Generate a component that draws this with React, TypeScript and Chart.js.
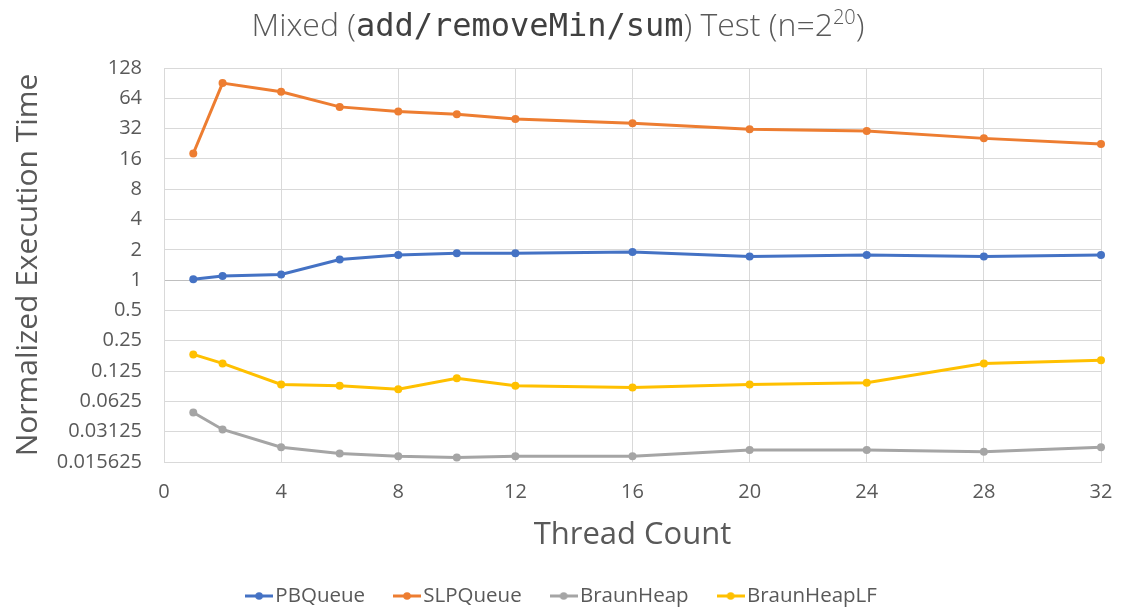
import React, { useEffect, useRef } from "react";
import { Chart, registerables } from "chart.js";

Chart.register(...registerables);

const threads = [1, 2, 4, 6, 8, 10, 12, 16, 20, 24, 28, 32];
const pbQueue = [1.02, 1.1, 1.14, 1.6, 1.78, 1.85, 1.85, 1.9, 1.72, 1.78, 1.72, 1.78];
const slpQueue = [18.1, 90.6, 74.3, 52.6, 47.3, 44.4, 39.9, 36.1, 31.5, 30.3, 25.6, 22.5];
const braunHeap = [0.0484, 0.0329, 0.0219, 0.019, 0.0178, 0.0173, 0.0178, 0.0178, 0.0206, 0.0206, 0.0198, 0.0219];
const braunHeapLF = [0.183, 0.149, 0.092, 0.0894, 0.0827, 0.106, 0.0894, 0.086, 0.092, 0.0959, 0.149, 0.16];
const seriesNames = ["PBQueue", "SLPQueue", "BraunHeap", "BraunHeapLF"];
const seriesColors = ["#4472C4", "#ED7D31", "#A5A5A5", "#FFC000"];
const yTicks = [0.015625, 0.03125, 0.0625, 0.125, 0.25, 0.5, 1, 2, 4, 8, 16, 32, 64, 128];
const xTicks = [0, 4, 8, 12, 16, 20, 24, 28, 32];

const TEXT = "#595959";
const GRID = "#d9d9d9";
const FONT = "'Open Sans', 'Noto Sans', sans-serif";

export default function App() {
  const ref = useRef<HTMLCanvasElement>(null);

  useEffect(() => {
    document.body.style.margin = "0";
    const canvas = ref.current;
    if (!canvas) return;

    const makeIcon = (color: string) => {
      const c = document.createElement("canvas");
      c.width = 28;
      c.height = 10;
      const g = c.getContext("2d")!;
      g.strokeStyle = color;
      g.lineWidth = 3;
      g.beginPath();
      g.moveTo(0, 5);
      g.lineTo(28, 5);
      g.stroke();
      g.fillStyle = color;
      g.beginPath();
      g.arc(14, 5, 3.8, 0, Math.PI * 2);
      g.fill();
      return c;
    };
    const icons = seriesColors.map(makeIcon);

    const seriesValues = [pbQueue, slpQueue, braunHeap, braunHeapLF];
    const datasets = seriesValues.map((vals, i) => ({
      label: seriesNames[i],
      data: threads.map((t, j) => ({ x: t, y: vals[j] })),
      borderColor: seriesColors[i],
      backgroundColor: seriesColors[i],
      pointBackgroundColor: seriesColors[i],
      pointBorderColor: seriesColors[i],
      pointBorderWidth: 0,
      pointRadius: 4,
      borderWidth: 3,
      tension: 0,
      clip: false as any,
    }));

    const chart = new Chart(canvas, {
      type: "line",
      data: { datasets },
      options: {
        animation: false,
        responsive: false,
        devicePixelRatio: 1,
        layout: { padding: { left: 29, right: 23, top: 68, bottom: 0 } },
        plugins: {
          title: { display: false },
          tooltip: { enabled: false },
          legend: {
            position: "bottom",
            maxHeight: 62.25,
            labels: {
              usePointStyle: true,
              pointStyleWidth: 12,
              boxHeight: 10,
              padding: 36,
              color: TEXT,
              font: { family: FONT, size: 20.5 },
              generateLabels: (ch: any) =>
                (Chart.defaults.plugins.legend.labels.generateLabels as any)(ch).map(
                  (it: any, i: number) => ({ ...it, pointStyle: icons[i] })
                ),
            },
          },
        },
        scales: {
          x: {
            type: "linear",
            min: 0,
            max: 32,
            afterBuildTicks: (s: any) => {
              s.ticks = xTicks.map((v) => ({ value: v }));
            },
            afterFit: (s: any) => {
              s.height = 87.75;
            },
            grid: {
              color: GRID,
              lineWidth: 1,
              drawTicks: true,
              tickLength: 8,
              tickColor: "rgba(0,0,0,0)",
            },
            border: { color: GRID, width: 1 },
            ticks: {
              padding: 10,
              color: TEXT,
              font: { family: FONT, size: 20 },
              maxRotation: 0,
              autoSkip: false,
            },
            title: {
              display: true,
              text: "Thread Count",
              color: TEXT,
              font: { family: FONT, size: 31 },
              padding: { top: 0, bottom: -4.35 },
            },
          },
          y: {
            type: "logarithmic",
            min: 0.015625,
            max: 128,
            afterBuildTicks: (s: any) => {
              s.ticks = yTicks.map((v) => ({ value: v }));
            },
            afterFit: (s: any) => {
              s.width = 135;
            },
            grid: {
              color: (c: any) => (c.tick && c.tick.value === 1 ? "#bfbfbf" : GRID),
              lineWidth: 1,
              drawTicks: false,
            },
            border: { color: GRID, width: 1 },
            ticks: {
              padding: 22,
              color: TEXT,
              font: { family: FONT, size: 20 },
              autoSkip: false,
              callback: (v: any) => String(v),
            },
            title: {
              display: true,
              text: "Normalized Execution Time",
              color: TEXT,
              font: { family: FONT, size: 30 },
              padding: { top: -19, bottom: 0 },
            },
          },
        },
      } as any,
    });
    return () => chart.destroy();
  }, []);

  return (
    <div style={{ position: "absolute", left: 0, top: 0, width: 1124, height: 612, background: "#fff" }}>
      <div
        style={{
          position: "absolute",
          top: 3,
          left: -4,
          width: 1124,
          textAlign: "center",
          fontFamily: FONT,
          fontWeight: 300,
          fontSize: 32,
          lineHeight: "42px",
          color: TEXT,
          whiteSpace: "nowrap",
        }}
      >
        Mixed (
        <span style={{ fontFamily: "'DejaVu Sans Mono', monospace", color: "#404040" }}>add/removeMin/sum</span>
        ) Test (n=2
        <sup style={{ fontSize: 20, verticalAlign: "super", lineHeight: 0 }}>20</sup>)
      </div>
      <canvas ref={ref} width={1124} height={612} style={{ display: "block", width: 1124, height: 612 }} />
    </div>
  );
}
